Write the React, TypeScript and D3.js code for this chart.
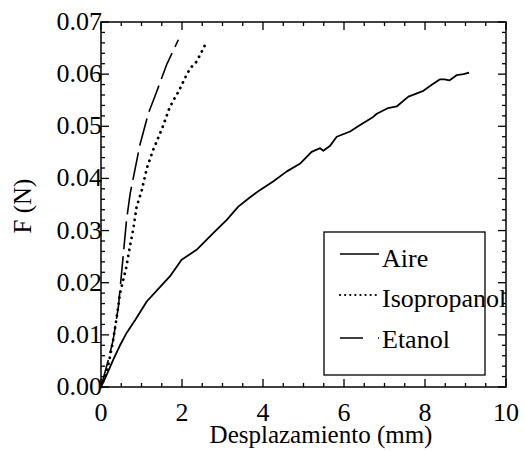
import React, { useEffect, useRef } from 'react';
import * as d3 from 'd3';

// curvas: [desplazamiento mm, fuerza N]
const aire: [number, number][] = [
  [0, 0], [0.15, 0.0025], [0.3, 0.0052], [0.47, 0.008], [0.62, 0.0102], [0.84, 0.0128],
  [1.13, 0.0164], [1.46, 0.0192], [1.7, 0.0212], [1.99, 0.0244], [2.36, 0.0263],
  [2.77, 0.0295], [3.1, 0.032], [3.39, 0.0346], [3.65, 0.0362], [3.93, 0.0378],
  [4.25, 0.0394], [4.58, 0.0413], [4.91, 0.0428], [5.2, 0.0451], [5.41, 0.0458],
  [5.49, 0.0453], [5.65, 0.0462], [5.82, 0.048], [6.15, 0.049], [6.35, 0.05],
  [6.72, 0.0518], [6.81, 0.0524], [7.09, 0.0535], [7.3, 0.0538], [7.59, 0.0557],
  [7.96, 0.0568], [8.16, 0.0579], [8.37, 0.059], [8.49, 0.059], [8.6, 0.0588],
  [8.78, 0.0598], [8.95, 0.06], [9.09, 0.0603],
];

const isopropanol: [number, number][] = [
  [0, 0], [0.1, 0.002], [0.2, 0.0049], [0.3, 0.009], [0.39, 0.0135], [0.47, 0.018],
  [0.62, 0.0228], [0.72, 0.0272], [0.8, 0.0304], [0.88, 0.0346], [1.0, 0.0375],
  [1.13, 0.0419], [1.29, 0.0455], [1.51, 0.0496], [1.69, 0.0535], [1.79, 0.055],
  [1.91, 0.0566], [2.07, 0.0592], [2.2, 0.0611], [2.36, 0.0624], [2.57, 0.0656],
];

const etanol: [number, number][] = [
  [0, 0], [0.18, 0.0052], [0.3, 0.009], [0.43, 0.0154], [0.63, 0.032], [0.72, 0.0371],
  [0.96, 0.0464], [1.17, 0.0525], [1.33, 0.0557], [1.62, 0.0618], [1.91, 0.0666],
];

const xTicks = [0, 2, 4, 6, 8, 10];
const yTicks = [0, 0.01, 0.02, 0.03, 0.04, 0.05, 0.06, 0.07];
const legendLabels = ['Aire', 'Isopropanol', 'Etanol'];

const W = 525;
const H = 451;
const FONT = "'Liberation Serif', 'Times New Roman', Times, 'DejaVu Serif', serif";

const App = () => {
  const svgRef = useRef<SVGSVGElement>(null);

  useEffect(() => {
    const svg = d3.select(svgRef.current);
    svg.selectAll('*').remove();

    const left = 101, right = 506, top = 22, bottom = 387;
    const x = d3.scaleLinear().domain([0, 10]).range([left, right]);
    const y = d3.scaleLinear().domain([0, 0.07]).range([bottom, top]);

    // marco
    svg.append('rect')
      .attr('x', left).attr('y', top)
      .attr('width', right - left).attr('height', bottom - top)
      .attr('fill', 'none').attr('stroke', '#000').attr('stroke-width', 1.5);

    // ticks menores y mayores, hacia adentro en los cuatro lados
    const xMinor = d3.range(0, 10.01, 0.5);
    const yMinor = d3.range(0, 0.07001, 0.002);
    const tick = svg.append('g').attr('stroke', '#000').attr('stroke-width', 1.3);
    xMinor.forEach(v => {
      const major = Math.abs(v / 2 - Math.round(v / 2)) < 1e-6;
      const len = major ? 8 : 4;
      tick.append('line').attr('x1', x(v)).attr('x2', x(v)).attr('y1', bottom).attr('y2', bottom - len);
      tick.append('line').attr('x1', x(v)).attr('x2', x(v)).attr('y1', top).attr('y2', top + len);
    });
    yMinor.forEach(v => {
      const major = Math.abs(v / 0.01 - Math.round(v / 0.01)) < 1e-6;
      const len = major ? 8 : 4;
      tick.append('line').attr('y1', y(v)).attr('y2', y(v)).attr('x1', left).attr('x2', left + len);
      tick.append('line').attr('y1', y(v)).attr('y2', y(v)).attr('x1', right).attr('x2', right - len);
    });

    // etiquetas de ticks
    svg.append('g').selectAll('text').data(xTicks).enter().append('text')
      .attr('x', d => x(d)).attr('y', 421)
      .attr('text-anchor', 'middle')
      .style('font-family', FONT).style('font-size', '26px')
      .text(d => String(d));

    svg.append('g').selectAll('text').data(yTicks).enter().append('text')
      .attr('x', left + 1).attr('y', d => y(d) + 8)
      .attr('text-anchor', 'end')
      .style('font-family', FONT).style('font-size', '26px')
      .text(d => d.toFixed(2));

    // titulos
    svg.append('text')
      .attr('x', 321).attr('y', 443)
      .attr('text-anchor', 'middle')
      .style('font-family', FONT).style('font-size', '25px')
      .text('Desplazamiento (mm)');

    svg.append('text')
      .attr('transform', 'translate(31,206) rotate(-90)')
      .attr('text-anchor', 'middle')
      .style('font-family', FONT).style('font-size', '25px')
      .text('F (N)');

    // curvas
    const line = d3.line<[number, number]>().x(d => x(d[0])).y(d => y(d[1]));

    svg.append('path').datum(aire)
      .attr('d', line).attr('fill', 'none')
      .attr('stroke', '#000').attr('stroke-width', 1.8).attr('stroke-linejoin', 'round');

    svg.append('path').datum(isopropanol)
      .attr('d', line).attr('fill', 'none')
      .attr('stroke', '#000').attr('stroke-width', 2.8)
      .attr('stroke-linecap', 'round').attr('stroke-dasharray', '0.1,6');

    svg.append('path').datum(etanol)
      .attr('d', line).attr('fill', 'none')
      .attr('stroke', '#000').attr('stroke-width', 1.6)
      .attr('stroke-dasharray', '28,7');

    // leyenda
    const lg = svg.append('g');
    lg.append('rect')
      .attr('x', 324).attr('y', 232).attr('width', 161).attr('height', 143)
      .attr('fill', '#fff').attr('stroke', '#000').attr('stroke-width', 1.3);

    const rows = [254, 295, 338];
    const textY = [267, 307, 348];
    const dashes = [null, '0.1,5', '23,15,1.5,100'];
    const widths = [1.4, 2.2, 1.6];
    legendLabels.forEach((label, i) => {
      const l = lg.append('line')
        .attr('x1', 340).attr('x2', 379).attr('y1', rows[i]).attr('y2', rows[i])
        .attr('stroke', '#000').attr('stroke-width', widths[i]);
      if (dashes[i]) l.attr('stroke-dasharray', dashes[i] as string);
      if (i === 1) l.attr('stroke-linecap', 'round');
      lg.append('text')
        .attr('x', 382).attr('y', textY[i])
        .style('font-family', FONT).style('font-size', '26px')
        .text(label);
    });
  }, []);

  return (
    <svg
      ref={svgRef}
      width={W}
      height={H}
      style={{ position: 'absolute', left: 0, top: 0, background: '#fff' }}
    />
  );
};

export default App;
